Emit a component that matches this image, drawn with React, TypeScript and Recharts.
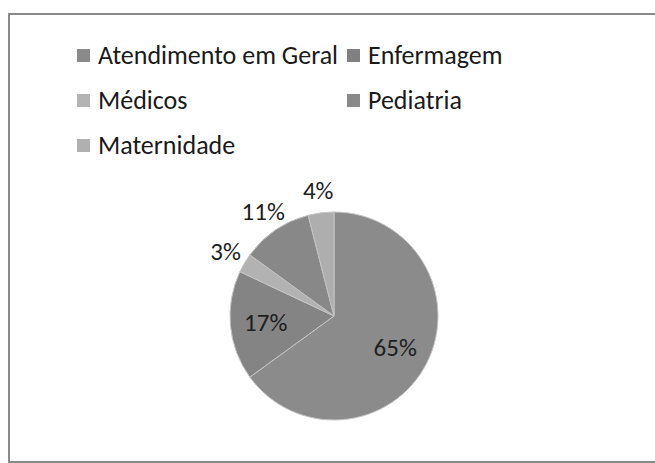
import React from "react";
import { PieChart, Pie, Cell, Legend } from "recharts";

const categories = ["Atendimento em Geral", "Enfermagem", "Médicos", "Pediatria", "Maternidade"];
const values = [65, 17, 3, 11, 4];
const sliceColors = ["#8b8b8b", "#848484", "#b2b2b2", "#888888", "#aeaeae"];
const legendColors = ["#8a8a8a", "#808080", "#b4b4b4", "#8a8a8a", "#b0b0b0"];

const data = categories.map((name, i) => ({ name, value: values[i] }));
const FONT = "Carlito, Lato, 'Liberation Sans', sans-serif";
const RAD = Math.PI / 180;

const renderLabel = (props: any) => {
  const { cx, cy, midAngle, outerRadius, percent } = props;
  const inside = percent >= 0.15;
  const r = inside ? outerRadius * 0.66 : outerRadius + 22;
  const x = cx + r * Math.cos(-midAngle * RAD);
  const y = cy + r * Math.sin(-midAngle * RAD);
  return (
    <text x={x} y={y} fill="#1e1e1e" fontSize={25} fontFamily={FONT} textAnchor="middle" dominantBaseline="central">
      {`${Math.round(percent * 100)}%`}
    </text>
  );
};

const legendPos = [
  { left: 77, top: 55 },
  { left: 347, top: 55 },
  { left: 77, top: 100 },
  { left: 347, top: 100 },
  { left: 77, top: 145 },
];

const renderLegend = () => {
  return (
    <div style={{ position: "relative", width: 655, height: 170 }}>
      {categories.map((name, i) => (
        <div
          key={name}
          style={{
            position: "absolute",
            left: legendPos[i].left,
            top: legendPos[i].top - 16,
            height: 32,
            display: "flex",
            alignItems: "center",
            fontFamily: FONT,
            fontSize: 26,
            color: "#1a1a1a",
            whiteSpace: "nowrap",
          }}
        >
          <span style={{ display: "inline-block", width: 13, height: 13, background: legendColors[i], marginRight: 8 }} />
          <span>{name}</span>
        </div>
      ))}
    </div>
  );
};

export default function App() {
  return (
    <div style={{ position: "absolute", left: 0, top: 0, width: 655, height: 463, background: "#fff" }}>
      <div
        style={{
          position: "absolute",
          left: 8,
          top: 13,
          width: 660,
          height: 446,
          border: "2px solid #8a8a8a",
        }}
      />
      <PieChart width={655} height={463} style={{ position: "absolute", left: 0, top: 0 }}>
        <Legend
          content={renderLegend}
          wrapperStyle={{ position: "absolute", left: 0, top: 0, width: 655, height: 170 }}
        />
        <Pie
          data={data}
          dataKey="value"
          nameKey="name"
          cx={329}
          cy={311}
          outerRadius={104}
          startAngle={90}
          endAngle={-270}
          stroke="#c4c4c4"
          strokeWidth={1}
          label={renderLabel}
          labelLine={false}
          isAnimationActive={false}
        >
          {data.map((d, i) => (
            <Cell key={d.name} fill={sliceColors[i]} />
          ))}
        </Pie>
      </PieChart>
    </div>
  );
}
